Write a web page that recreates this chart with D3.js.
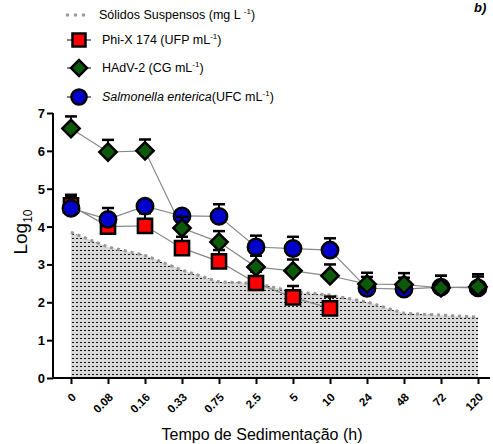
<!DOCTYPE html>
<html>
<head>
<meta charset="utf-8">
<script src="https://cdn.jsdelivr.net/npm/d3@7"></script>
<style>
  body { margin: 0; background: #fff; }
  svg { font-family: "Liberation Sans", Arial, sans-serif; }
</style>
</head>
<body>
<div id="chart"></div>
<script>
// categories (sedimentation time, h)
var times = ["0", "0.08", "0.16", "0.33", "0.75", "2.5", "5", "10", "24", "48", "72", "120"];
var yTicks = [0, 1, 2, 3, 4, 5, 6, 7];

// suspended solids (log units on the same axis)
var solids = [3.85, 3.46, 3.24, 2.85, 2.54, 2.5, 2.28, 2.19, 2.01, 1.71, 1.66, 1.61];

// Phi-X 174 (UFP mL-1)
var phix = [4.56, 4.0, 4.02, 3.43, 3.08, 2.51, 2.13, 1.84, null, null, null, null];
var phixErr = [0.28, 0.3, 0.33, 0.3, 0.3, 0.3, 0.3, 0.31, null, null, null, null];

// HAdV-2 (CG mL-1)
var hadv = [6.59, 5.97, 6.0, 3.96, 3.59, 2.93, 2.83, 2.70, 2.48, 2.47, 2.38, 2.41];
var hadvErr = [0.32, 0.32, 0.3, 0.3, 0.29, 0.3, 0.3, 0.3, 0.3, 0.3, 0.32, 0.33];

// Salmonella enterica (UFC mL-1)
var salm = [4.48, 4.19, 4.54, 4.28, 4.27, 3.46, 3.42, 3.38, 2.37, 2.35, 2.40, 2.38];
var salmErr = [0.3, 0.3, 0.0, 0.0, 0.32, 0.3, 0.31, 0.31, 0.3, 0.3, 0.3, 0.3];

var width = 493, height = 444;

var svg = d3.select("#chart").append("svg")
    .attr("width", width)
    .attr("height", height);

var x = d3.scalePoint().domain(times).range([71, 478]);
var y = d3.scaleLinear().domain([0, 7]).range([378, 113]);

// hatch pattern for the solids area
var defs = svg.append("defs");
var pat = defs.append("pattern")
    .attr("id", "hatch")
    .attr("patternUnits", "userSpaceOnUse")
    .attr("width", 4).attr("height", 4);
pat.append("rect").attr("width", 4).attr("height", 4).attr("fill", "#d9d9d9");
pat.append("rect").attr("x", 0).attr("y", 2).attr("width", 2).attr("height", 1).attr("fill", "#111");

var area = d3.area()
    .x(function(d, i) { return x(times[i]); })
    .y0(y(0))
    .y1(function(d) { return y(d); });

svg.append("path")
    .datum(solids)
    .attr("d", area)
    .attr("fill", "url(#hatch)");

svg.append("path")
    .datum(solids)
    .attr("d", d3.line().x(function(d, i) { return x(times[i]); }).y(function(d) { return y(d); }))
    .attr("fill", "none")
    .attr("stroke", "#999")
    .attr("stroke-width", 3)
    .attr("stroke-dasharray", "3,4");

// axes
var yAxis = svg.append("g")
    .attr("transform", "translate(53,0)")
    .call(d3.axisLeft(y).tickValues(yTicks).tickSize(6).tickFormat(d3.format("d")));
yAxis.select(".domain").attr("d", "M0," + y(7) + "V" + y(0)).attr("stroke-width", 2);
yAxis.selectAll(".tick line").attr("stroke-width", 2);
yAxis.selectAll("text").attr("font-size", 13).attr("font-weight", "bold").attr("x", -8).attr("dy", "0.35em");

var xAxis = svg.append("g")
    .attr("transform", "translate(0," + y(0) + ")")
    .call(d3.axisBottom(x).tickSize(6).tickFormat(""));
xAxis.select(".domain").attr("d", "M53,0H490").attr("stroke-width", 2);
xAxis.selectAll(".tick line").attr("stroke-width", 2);

// rotated tick labels
svg.append("g").selectAll("g")
    .data(times)
    .enter().append("g")
    .attr("transform", function(d) { return "translate(" + (x(d) + 3) + "," + (y(0) + 17) + ") rotate(-45)"; })
    .append("text")
    .attr("text-anchor", "end")
    .attr("dy", "0.35em")
    .attr("font-size", 11.5)
    .attr("font-weight", "bold")
    .text(function(d) { return d; });

svg.append("text")
    .attr("x", 262).attr("y", 440)
    .attr("text-anchor", "middle")
    .attr("font-size", 16)
    .text("Tempo de Sedimentação (h)");

var yl = svg.append("text")
    .attr("transform", "translate(27,232) rotate(-90)")
    .attr("text-anchor", "middle")
    .attr("font-size", 19);
yl.append("tspan").text("Log");
yl.append("tspan").attr("font-size", 12).attr("dy", 5).text("10");

svg.append("text")
    .attr("x", 474).attr("y", 12)
    .attr("font-size", 13).attr("font-weight", "bold").attr("font-style", "italic")
    .text("b)");

// series
var series = [
    { vals: phix, err: phixErr, shape: d3.symbolSquare, size: 200, rot: 0, fill: "#ff0000" },
    { vals: salm, err: salmErr, shape: d3.symbolCircle, size: 210, rot: 0, fill: "#0000cc" },
    { vals: hadv, err: hadvErr, shape: d3.symbolSquare, size: 150, rot: 45, fill: "#0a5a0a" }
];

var line = d3.line()
    .defined(function(d) { return d != null; })
    .x(function(d, i) { return x(times[i]); })
    .y(function(d) { return y(d); });

series.forEach(function(s) {
    svg.append("path")
        .datum(s.vals)
        .attr("d", line)
        .attr("fill", "none")
        .attr("stroke", "#888")
        .attr("stroke-width", 1.2);
});

series.forEach(function(s) {
    var g = svg.append("g");
    s.vals.forEach(function(v, i) {
        if (v == null) return;
        var cx = x(times[i]);
        var e = s.err[i];
        if (e) {
            g.append("line").attr("x1", cx).attr("x2", cx)
                .attr("y1", y(v)).attr("y2", y(v + e))
                .attr("stroke", "#000").attr("stroke-width", 2);
            g.append("line").attr("x1", cx - 6).attr("x2", cx + 6)
                .attr("y1", y(v + e)).attr("y2", y(v + e))
                .attr("stroke", "#000").attr("stroke-width", 2.5);
        }
        g.append("path")
            .attr("d", d3.symbol().type(s.shape).size(s.size)())
            .attr("transform", "translate(" + cx + "," + y(v) + ") rotate(" + s.rot + ")")
            .attr("fill", s.fill)
            .attr("stroke", "#000")
            .attr("stroke-width", 2.5);
    });
});

// legend
var leg = svg.append("g").attr("font-size", 12.5);
leg.append("line").attr("x1", 66).attr("x2", 90).attr("y1", 15).attr("y2", 15)
    .attr("stroke", "#999").attr("stroke-width", 3).attr("stroke-dasharray", "3,5");
var t0 = leg.append("text").attr("x", 99).attr("y", 19);
t0.append("tspan").text("Sólidos Suspensos (mg L ");
t0.append("tspan").attr("font-size", 8).attr("dy", -5).text("-1");
t0.append("tspan").attr("dy", 5).text(")");

var legItems = [
    { y: 40, s: series[0], label: "Phi-X 174 (UFP mL", italic: null },
    { y: 68, s: series[2], label: "HAdV-2 (CG mL", italic: null },
    { y: 97, s: series[1], label: "(UFC mL", italic: "Salmonella enterica" }
];
legItems.forEach(function(it) {
    leg.append("line").attr("x1", 67).attr("x2", 91).attr("y1", it.y).attr("y2", it.y)
        .attr("stroke", "#000").attr("stroke-width", 1);
    leg.append("path")
        .attr("d", d3.symbol().type(it.s.shape).size(it.s.size * 0.85)())
        .attr("transform", "translate(79," + it.y + ") rotate(" + it.s.rot + ")")
        .attr("fill", it.s.fill).attr("stroke", "#000").attr("stroke-width", 2.5);
    var t = leg.append("text").attr("x", 102).attr("y", it.y + 4);
    if (it.italic) t.append("tspan").attr("font-style", "italic").text(it.italic);
    t.append("tspan").text(it.label);
    t.append("tspan").attr("font-size", 8).attr("dy", -5).text("-1");
    t.append("tspan").attr("dy", 5).text(")");
});
</script>
</body>
</html>
